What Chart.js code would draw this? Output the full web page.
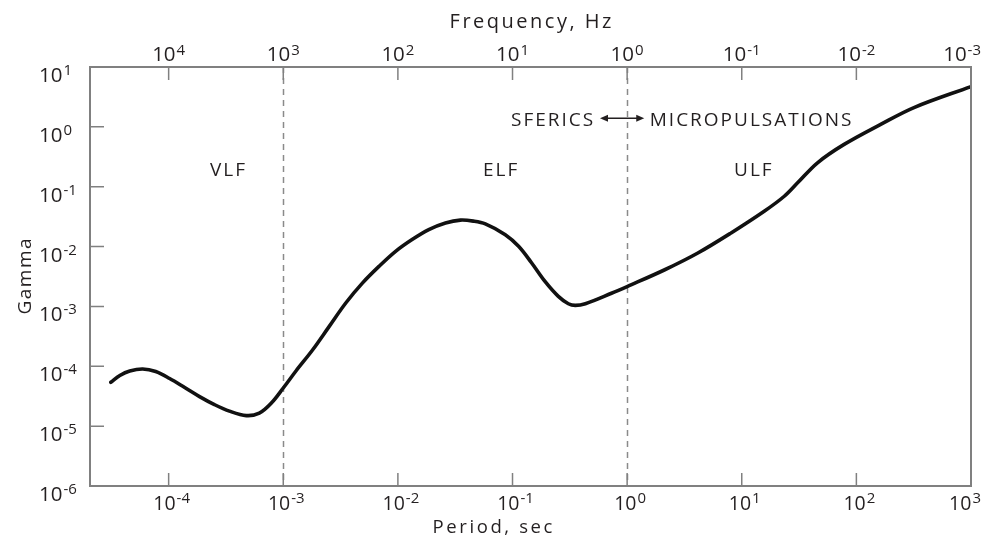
<!DOCTYPE html>
<html>
<head>
<meta charset="utf-8">
<title>Gamma vs period</title>
<script src="https://cdn.jsdelivr.net/npm/chart.js@4.4.1/dist/chart.umd.min.js"></script>
<style>
  html, body { margin: 0; padding: 0; background: #fff; }
  canvas { display: block; }
</style>
</head>
<body>
<canvas id="chart" width="984" height="545"></canvas>
<script>
/* --- Curve (period in s, amplitude in gamma) --- */
var PERIOD_SEC = [
  3.13e-5, 3.75e-5, 4.58e-5, 5.94e-5, 7.71e-5, 1.02e-4, 1.38e-4, 1.86e-4,
  2.51e-4, 3.39e-4, 4.76e-4, 6.18e-4, 7.87e-4, 1e-3, 1.30e-3, 1.80e-3,
  2.51e-3, 3.51e-3, 4.90e-3, 6.84e-3, 9.55e-3, 1.33e-2, 1.86e-2, 2.60e-2,
  3.51e-2, 4.58e-2, 5.79e-2, 8.65e-2, 0.113, 0.147, 0.192, 0.251, 0.307,
  0.353, 0.432, 0.730, 1, 2.13, 4.14, 8.07, 15.7, 23.5, 30.7, 45.8, 78.2,
  163, 318, 1000
];
var GAMMA = [
  5.40e-5, 7.01e-5, 8.34e-5, 9.02e-5, 8.18e-5, 6.25e-5, 4.42e-5, 3.12e-5,
  2.29e-5, 1.78e-5, 1.50e-5, 1.65e-5, 2.43e-5, 4.34e-5, 8.51e-5, 1.87e-4,
  4.60e-4, 1.14e-3, 2.45e-3, 4.66e-3, 8.32e-3, 1.31e-2, 1.92e-2, 2.48e-2,
  2.77e-2, 2.66e-2, 2.39e-2, 1.58e-2, 1.01e-2, 5.31e-3, 2.61e-3, 1.47e-3,
  1.11e-3, 1.04e-3, 1.11e-3, 1.66e-3, 2.15e-3, 4.10e-3, 7.81e-3, 1.69e-2,
  3.89e-2, 6.93e-2, 0.116, 0.251, 0.509, 1.10, 2.10, 4.71
];

/* --- Axis decades (exponents of ten) --- */
var PERIOD_EXP = [-4, -3, -2, -1, 0, 1, 2, 3];
var FREQ_EXP = [4, 3, 2, 1, 0, -1, -2, -3];
var GAMMA_EXP = [1, 0, -1, -2, -3, -4, -5, -6];

/* --- Band names and boundaries --- */
var BANDS = ["VLF", "ELF", "ULF"];
var BOUNDARIES_SEC = [1e-3, 1];

var PERIOD_MIN = 2.06e-5;
var PERIOD_MAX = 1e3;

/* --- Styling --- */
var FONT = '"Open Sans", "DejaVu Sans", sans-serif';
var INK = "#231f20";
var AXIS_GREY = "#808080";
var CANVAS_W = 984;

function font(size) {
  return size + "px " + FONT;
}

/* "10" with a raised exponent */
function drawPow(ctx, exp, x, baseline, base, sup, rise, align) {
  var expText = exp < 0 ? "-" + (-exp) : String(exp);
  ctx.font = font(base);
  var wb = ctx.measureText("10").width;
  ctx.font = font(sup);
  var we = ctx.measureText(expText).width;
  var total = wb + 1 + we;
  var left = align === "center" ? x - total / 2 : x;
  if (left + total > CANVAS_W - 3) left = CANVAS_W - 3 - total;
  ctx.textAlign = "left";
  ctx.textBaseline = "alphabetic";
  ctx.font = font(base);
  ctx.fillText("10", left, baseline);
  ctx.font = font(sup);
  ctx.fillText(expText, left + wb + 1, baseline - rise);
}

function spacedText(ctx, text, x, y, size, spacing, align) {
  ctx.font = font(size);
  ctx.letterSpacing = spacing + "px";
  var w = ctx.measureText(text).width - spacing;
  var left = x;
  if (align === "center") left = x - w / 2;
  if (align === "right") left = x - w;
  ctx.textAlign = "left";
  ctx.fillText(text, left, y);
  ctx.letterSpacing = "0px";
}

function arrowHead(ctx, x, y, dir) {
  ctx.beginPath();
  ctx.moveTo(x, y);
  ctx.lineTo(x - dir * 8, y - 3.5);
  ctx.lineTo(x - dir * 8, y + 3.5);
  ctx.closePath();
  ctx.fill();
}

var frame = {
  id: "frame",
  beforeDatasetsDraw: function (chart) {
    var ctx = chart.ctx;
    var a = chart.chartArea;
    var sx = chart.scales.x;
    ctx.save();
    ctx.strokeStyle = "#8a8a8a";
    ctx.lineWidth = 1.5;
    ctx.setLineDash([6, 5]);
    BOUNDARIES_SEC.forEach(function (p) {
      var px = Math.round(sx.getPixelForValue(p)) + 0.5;
      ctx.beginPath();
      ctx.moveTo(px, a.top);
      ctx.lineTo(px, a.bottom);
      ctx.stroke();
    });
    ctx.restore();
  },
  afterDraw: function (chart) {
    var ctx = chart.ctx;
    var a = chart.chartArea;
    var sx = chart.scales.x;
    var sf = chart.scales.x2;
    var sy = chart.scales.y;
    ctx.save();

    /* box */
    ctx.strokeStyle = AXIS_GREY;
    ctx.lineWidth = 2;
    ctx.strokeRect(a.left, a.top, a.right - a.left, a.bottom - a.top);

    /* inward tick marks */
    ctx.lineWidth = 1.5;
    ctx.beginPath();
    PERIOD_EXP.forEach(function (e) {
      var px = sx.getPixelForValue(Math.pow(10, e));
      ctx.moveTo(px, a.bottom);
      ctx.lineTo(px, a.bottom - 13);
    });
    FREQ_EXP.forEach(function (e) {
      var px = sf.getPixelForValue(Math.pow(10, e));
      ctx.moveTo(px, a.top);
      ctx.lineTo(px, a.top + 13);
    });
    GAMMA_EXP.forEach(function (e) {
      var py = sy.getPixelForValue(Math.pow(10, e));
      ctx.moveTo(a.left, py);
      ctx.lineTo(a.left + 14, py);
    });
    ctx.stroke();

    /* tick labels */
    ctx.fillStyle = INK;
    PERIOD_EXP.forEach(function (e) {
      drawPow(ctx, e, sx.getPixelForValue(Math.pow(10, e)) + 3, a.bottom + 24, 19.5, 15, 7, "center");
    });
    FREQ_EXP.forEach(function (e) {
      drawPow(ctx, e, sf.getPixelForValue(Math.pow(10, e)), a.top - 6, 20.5, 15, 6, "center");
    });
    GAMMA_EXP.forEach(function (e) {
      drawPow(ctx, e, 39, sy.getPixelForValue(Math.pow(10, e)) + 15, 20.5, 15, 7, "left");
    });

    /* axis titles */
    ctx.textBaseline = "alphabetic";
    spacedText(ctx, "Frequency, Hz", (a.left + a.right) / 2, 28, 20, 2.5, "center");
    spacedText(ctx, "Period, sec", (a.left + a.right) / 2 - 38, 533, 18.5, 2.6, "center");
    ctx.save();
    ctx.translate(31, (a.top + a.bottom) / 2);
    ctx.rotate(-Math.PI / 2);
    spacedText(ctx, "Gamma", 0, 0, 19, 1.5, "center");
    ctx.restore();

    /* band names */
    var bandAt = [3.26e-4, 0.078, 12.5];
    var bandY = sy.getPixelForValue(0.194) + 7;
    BANDS.forEach(function (name, i) {
      spacedText(ctx, name, sx.getPixelForValue(bandAt[i]), bandY, 19, 2, "center");
    });

    /* sferics <-> micropulsations */
    var rowY = sy.getPixelForValue(1.34);
    spacedText(ctx, "SFERICS", sx.getPixelForValue(0.506), rowY + 7, 19, 2, "right");
    spacedText(ctx, "MICROPULSATIONS", sx.getPixelForValue(1.575), rowY + 7, 19, 2, "left");
    var x0 = sx.getPixelForValue(0.58);
    var x1 = sx.getPixelForValue(1.41);
    ctx.strokeStyle = INK;
    ctx.lineWidth = 1.3;
    ctx.beginPath();
    ctx.moveTo(x0 + 6, rowY - 1);
    ctx.lineTo(x1 - 6, rowY - 1);
    ctx.stroke();
    arrowHead(ctx, x0, rowY - 1, -1);
    arrowHead(ctx, x1, rowY - 1, 1);

    ctx.restore();
  }
};

new Chart(document.getElementById("chart"), {
  type: "line",
  data: {
    datasets: [
      {
        data: PERIOD_SEC.map(function (p, i) {
          return { x: p, y: GAMMA[i] };
        }),
        borderColor: "#111111",
        borderWidth: 3.6,
        pointRadius: 0,
        tension: 0.35,
        borderCapStyle: "round",
        borderJoinStyle: "round",
        fill: false,
        xAxisID: "x",
        yAxisID: "y"
      }
    ]
  },
  options: {
    responsive: false,
    animation: false,
    devicePixelRatio: 1,
    layout: { padding: { left: 0, right: 13, top: 0, bottom: 0 } },
    plugins: { legend: { display: false }, tooltip: { enabled: false } },
    scales: {
      x: {
        type: "logarithmic",
        position: "bottom",
        min: PERIOD_MIN,
        max: PERIOD_MAX,
        ticks: { display: false },
        grid: { display: false },
        border: { display: false },
        afterFit: function (s) { s.height = 59; }
      },
      x2: {
        type: "logarithmic",
        position: "top",
        reverse: true,
        min: 1 / PERIOD_MAX,
        max: 1 / PERIOD_MIN,
        ticks: { display: false },
        grid: { display: false },
        border: { display: false },
        afterFit: function (s) { s.height = 67; }
      },
      y: {
        type: "logarithmic",
        min: 1e-6,
        max: 10,
        ticks: { display: false },
        grid: { display: false },
        border: { display: false },
        afterFit: function (s) { s.width = 90; }
      }
    }
  },
  plugins: [frame]
});
</script>
</body>
</html>
